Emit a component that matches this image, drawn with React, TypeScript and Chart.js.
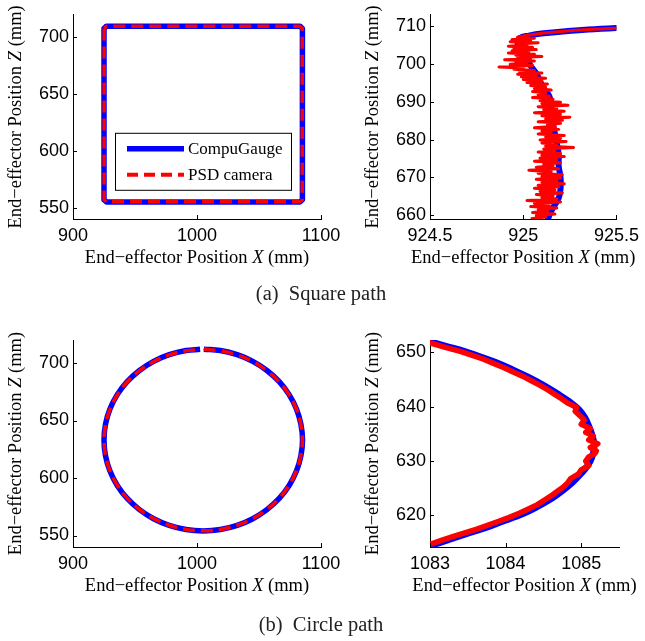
import React, { useEffect, useRef } from "react";
import { Chart, registerables } from "chart.js";

Chart.register(...registerables);

type Pt = [number, number];

const W = 645;
const H = 641;

// ---------- (a) Square path : full view ----------
const squareTicksX = [900, 1000, 1100];
const squareTicksY = [550, 600, 650, 700];
const squareBlue: Pt[] = [
  [925, 708], [925, 557], [927, 555], [1083, 555], [1085, 557],
  [1085, 708], [1083, 710], [927, 710], [925, 708],
];
const squareRed: Pt[] = [
  [925.1, 708], [925.1, 557], [927, 555.2], [1083, 555.2], [1084.9, 557],
  [1084.9, 708], [1083, 709.8], [927, 709.8], [925.1, 708],
];

// ---------- (a) Square path : zoom on left edge ----------
const edgeTicksX = [924.5, 925, 925.5];
const edgeTicksY = [660, 670, 680, 690, 700, 710];
const edgeBlue: Pt[] = [
  [925.6, 709.7], [925.5, 709.5], [925.35, 709.1], [925.24, 708.7], [925.11, 708.1],
  [925.03, 707.5], [924.98, 706.8], [924.97, 705.5], [924.99, 703.5], [925.02, 701.5],
  [925.04, 699.5], [925.07, 697.5], [925.09, 695.5], [925.11, 693.5], [925.14, 691.5],
  [925.15, 689.0], [925.15, 686.5], [925.16, 684.0], [925.17, 681.5], [925.18, 679.0],
  [925.19, 676.0], [925.19, 673.0], [925.2, 670.0], [925.2, 667.0], [925.19, 664.5],
  [925.16, 662.0], [925.14, 660.0], [925.13, 658.5],
];
const edgeRed: Pt[] = [
  [925.6, 709.6], [925.5, 709.45], [925.4, 709.25], [925.3, 709.0], [925.2, 708.6],
  [925.1, 708.1], [925.02, 707.6], [924.97, 707.1],
  [925.06, 706.8], [924.94, 706.5], [925.04, 706.2], [924.93, 705.9], [925.08, 705.6],
  [924.97, 705.3], [925.02, 705.0], [924.92, 704.7], [925.05, 704.4], [924.95, 704.1],
  [925.07, 703.8], [924.94, 703.5], [925.03, 703.2], [924.92, 702.9], [925.06, 702.6],
  [924.96, 702.3], [925.1, 702.0], [924.97, 701.7], [925.04, 701.4], [924.9, 701.1],
  [925.06, 700.8], [924.96, 700.5], [925.02, 700.2], [924.93, 699.9], [925.05, 699.6],
  [924.87, 699.2], [925.0, 698.9], [924.95, 698.6], [925.06, 698.3], [924.98, 698.0],
  [925.1, 697.6], [924.97, 697.3], [925.07, 697.0], [924.99, 696.6], [925.12, 696.2],
  [925.0, 695.9], [925.1, 695.5], [925.02, 695.1], [925.13, 694.7], [925.04, 694.3],
  [925.12, 693.9], [925.06, 693.5], [925.15, 693.1], [925.05, 692.7], [925.12, 692.3],
  [925.08, 691.9], [925.14, 691.5], [925.05, 691.1], [925.16, 690.7], [925.09, 690.3],
  [925.2, 689.9], [925.1, 689.5], [925.24, 689.1], [925.08, 688.7], [925.18, 688.3],
  [925.11, 687.9], [925.22, 687.5], [925.06, 687.1], [925.2, 686.7], [925.1, 686.3],
  [925.25, 685.9], [925.12, 685.5], [925.21, 685.1], [925.08, 684.7], [925.2, 684.3],
  [925.13, 683.9], [925.17, 683.5], [925.06, 683.1], [925.19, 682.7], [925.1, 682.3],
  [925.15, 681.9], [925.08, 681.5], [925.22, 681.1], [925.12, 680.7], [925.2, 680.3],
  [925.09, 679.9], [925.23, 679.5], [925.1, 679.1], [925.18, 678.7], [925.12, 678.3],
  [925.27, 677.9], [925.11, 677.5], [925.17, 677.1], [925.08, 676.7], [925.2, 676.3],
  [925.1, 675.9], [925.22, 675.5], [925.09, 675.1], [925.18, 674.7], [925.06, 674.3],
  [925.2, 673.9], [925.11, 673.5], [925.16, 673.1], [925.07, 672.7], [925.19, 672.3],
  [925.03, 671.9], [925.15, 671.5], [925.08, 671.1], [925.21, 670.7], [925.1, 670.3],
  [925.2, 669.9], [925.07, 669.5], [925.18, 669.1], [925.1, 668.7], [925.22, 668.3],
  [925.08, 667.9], [925.19, 667.5], [925.06, 667.1], [925.17, 666.7], [925.09, 666.3],
  [925.21, 665.9], [925.07, 665.5], [925.16, 665.1], [925.1, 664.7], [925.18, 664.3],
  [925.02, 663.9], [925.2, 663.5], [925.06, 663.1], [925.14, 662.7], [925.04, 662.3],
  [925.18, 661.9], [925.08, 661.5], [925.13, 661.1], [925.05, 660.7], [925.17, 660.3],
  [925.07, 659.9], [925.12, 659.5], [925.04, 659.1],
];

// ---------- (b) Circle path : full view ----------
const circleTicksX = [900, 1000, 1100];
const circleTicksY = [550, 600, 650, 700];
const circleBlue: Pt[] = [
  [1005.5, 712.0], [1018.9, 710.8], [1032.4, 707.2], [1045.0, 701.4], [1056.4, 693.5],
  [1066.3, 683.8], [1074.3, 672.5], [1080.2, 660.0], [1083.8, 646.7], [1085.1, 633.0],
  [1083.8, 619.3], [1080.2, 606.0], [1074.3, 593.5], [1066.3, 582.2], [1056.4, 572.5],
  [1045.0, 564.6], [1032.4, 558.8], [1018.9, 555.2], [1005.0, 554.0], [991.1, 555.2],
  [977.6, 558.8], [965.0, 564.6], [953.6, 572.5], [943.7, 582.2], [935.7, 593.5],
  [929.8, 606.0], [926.2, 619.3], [925.0, 633.0], [926.2, 646.7], [929.8, 660.0],
  [935.7, 672.5], [943.7, 683.8], [953.6, 693.5], [965.0, 701.4], [977.6, 707.2],
  [991.1, 710.8], [1002.5, 711.9],
];
const circleRed: Pt[] = [
  [1005.8, 713.0], [1007.0, 711.9], [1019.0, 710.6], [1032.3, 707.0], [1044.9, 701.3],
  [1056.3, 693.4], [1066.2, 683.7], [1074.2, 672.4], [1080.1, 660.0], [1083.7, 646.7],
  [1085.0, 633.0], [1083.7, 619.4], [1080.1, 606.1], [1074.2, 593.6], [1066.2, 582.3],
  [1056.3, 572.6], [1044.9, 564.7], [1032.3, 558.9], [1018.9, 555.3], [1005.0, 554.1],
  [991.1, 555.3], [977.7, 558.9], [965.1, 564.7], [953.7, 572.6], [943.8, 582.3],
  [935.8, 593.6], [929.9, 606.0], [926.3, 619.3], [925.1, 633.0], [926.3, 646.6],
  [929.9, 659.9], [935.8, 672.4], [943.8, 683.7], [953.7, 693.4], [965.1, 701.3],
  [977.7, 707.0], [991.2, 710.6], [1002.2, 711.7],
];

// ---------- (b) Circle path : zoom on right side ----------
const arcTicksX = [1083, 1084, 1085];
const arcTicksY = [620, 630, 640, 650];
const arcBlue: Pt[] = [
  [1082.6, 653.2], [1083.0, 652.0], [1083.2, 651.2], [1083.44, 650.3], [1083.65, 649.3],
  [1083.87, 648.2], [1084.1, 646.8], [1084.31, 645.4], [1084.51, 643.9], [1084.7, 642.3],
  [1084.84, 641.0], [1084.97, 639.5], [1085.05, 638.0], [1085.1, 636.5], [1085.14, 635.0],
  [1085.17, 633.4], [1085.17, 632.5], [1085.16, 631.5], [1085.12, 630.0], [1085.05, 628.5],
  [1084.95, 627.0], [1084.88, 626.0], [1084.75, 624.5], [1084.62, 623.2], [1084.47, 622.0],
  [1084.31, 620.8], [1084.14, 619.8], [1083.96, 618.9], [1083.75, 617.8], [1083.52, 616.8],
  [1083.28, 615.7], [1083.04, 614.6], [1082.6, 613.2],
];
const arcRed: Pt[] = [
  [1082.82, 652.5], [1083.02, 651.7], [1083.19, 651.0], [1083.4, 650.2], [1083.55, 649.5],
  [1083.7, 648.8], [1083.84, 648.0], [1083.98, 647.2], [1084.1, 646.4], [1084.23, 645.6],
  [1084.34, 644.8], [1084.45, 644.0], [1084.56, 643.1], [1084.65, 642.3], [1084.74, 641.5],
  [1084.82, 640.7], [1084.94, 639.9], [1084.92, 639.2], [1084.98, 638.4], [1085.04, 637.6],
  [1085.0, 636.8], [1085.12, 636.0], [1085.06, 635.3], [1085.16, 634.6], [1085.1, 633.9],
  [1085.22, 633.2], [1085.12, 632.5], [1085.2, 631.9], [1085.18, 631.4], [1085.1, 630.8],
  [1085.06, 630.0], [1085.1, 629.2], [1085.0, 628.4], [1084.96, 627.6], [1084.86, 626.8],
  [1084.82, 626.0], [1084.76, 625.2], [1084.68, 624.4], [1084.6, 623.6], [1084.52, 622.9],
  [1084.42, 622.0], [1084.3, 621.2], [1084.18, 620.4], [1084.04, 619.6], [1083.9, 618.9],
  [1083.76, 618.2], [1083.62, 617.5], [1083.46, 616.8], [1083.3, 616.1], [1083.15, 615.4],
  [1083.0, 614.7], [1082.85, 614.0],
];

const legendLabels = ["CompuGauge", "PSD camera"];
const xTitle = ["End\u2212effector Position ", "X", " (mm)"];
const yTitle = ["End\u2212effector Position ", "Z", " (mm)"];

const BLUE = "#0000ff";
const RED = "#ff0000";
const TICK_FONT = '"Liberation Sans", Arial, sans-serif';
const SERIF = '"Liberation Serif", "Times New Roman", serif';

type Rect = { left: number; top: number; right: number; bottom: number };
type DS = { pts: Pt[]; color: string; width: number; dash?: number[]; tension?: number };
type PanelCfg = {
  rect: Rect;
  xMin: number; xMax: number; yMin: number; yMax: number;
  xTicks: number[]; yTicks: number[];
  series: DS[];
  legend?: boolean;
};

const YW = 60;
const XH = 60;

function drawMixed(ctx: CanvasRenderingContext2D, parts: string[], cx: number, cy: number, size: number) {
  const fonts = [`${size}px ${SERIF}`, `italic ${size}px ${SERIF}`, `${size}px ${SERIF}`];
  let total = 0;
  const widths = parts.map((p, i) => {
    ctx.font = fonts[i];
    const w = ctx.measureText(p).width;
    total += w;
    return w;
  });
  let x = cx - total / 2;
  ctx.textBaseline = "middle";
  ctx.textAlign = "left";
  parts.forEach((p, i) => {
    ctx.font = fonts[i];
    ctx.fillText(p, x, cy);
    x += widths[i];
  });
}

const decorPlugin = {
  id: "decor",
  afterDraw(chart: any) {
    const { ctx, chartArea: a, scales } = chart;
    const cfg: PanelCfg = chart.options.plugins.decor.cfg;
    ctx.save();
    ctx.strokeStyle = "#000";
    ctx.fillStyle = "#000";
    ctx.lineWidth = 1;
    ctx.setLineDash([]);
    // inward tick marks
    ctx.beginPath();
    cfg.xTicks.forEach((v) => {
      const px = Math.round(scales.x.getPixelForValue(v)) + 0.5;
      ctx.moveTo(px, a.bottom);
      ctx.lineTo(px, a.bottom - 4);
    });
    cfg.yTicks.forEach((v) => {
      const py = Math.round(scales.y.getPixelForValue(v)) + 0.5;
      ctx.moveTo(a.left, py);
      ctx.lineTo(a.left + 4, py);
    });
    ctx.stroke();
    // axis titles
    drawMixed(ctx, xTitle, (a.left + a.right) / 2, a.bottom + 39, 18.5);
    ctx.save();
    ctx.translate(a.left - 57, (a.top + a.bottom) / 2);
    ctx.rotate(-Math.PI / 2);
    drawMixed(ctx, yTitle, 0, 0, 18.5);
    ctx.restore();
    // legend
    if (cfg.legend) {
      const lx = a.left + 42;
      const ly = a.top + 118;
      const lw = 176;
      const lh = 57;
      ctx.fillStyle = "#fff";
      ctx.fillRect(lx, ly, lw, lh);
      ctx.strokeStyle = "#000";
      ctx.lineWidth = 1;
      ctx.strokeRect(lx + 0.5, ly + 0.5, lw, lh);
      const rows = [
        { c: BLUE, w: 5.5, d: [] as number[] },
        { c: RED, w: 4, d: [11, 6] },
      ];
      rows.forEach((r, i) => {
        const yy = ly + 16 + i * 26;
        ctx.beginPath();
        ctx.strokeStyle = r.c;
        ctx.lineWidth = r.w;
        ctx.lineCap = "butt";
        ctx.setLineDash(r.d);
        ctx.moveTo(lx + 12, yy);
        ctx.lineTo(lx + 69, yy);
        ctx.stroke();
        ctx.setLineDash([]);
        ctx.fillStyle = "#000";
        ctx.font = `17px ${SERIF}`;
        ctx.textAlign = "left";
        ctx.textBaseline = "middle";
        ctx.fillText(legendLabels[i], lx + 73, yy + 1);
      });
    }
    ctx.restore();
  },
};

function axis(min: number, max: number, ticks: number[], horizontal: boolean) {
  return {
    type: "linear",
    min,
    max,
    grid: { display: false, drawTicks: false },
    border: { display: true, color: "#000", width: 1 },
    ticks: {
      color: "#000",
      font: { family: TICK_FONT, size: 18 },
      padding: horizontal ? 6 : 4,
      maxRotation: 0,
      autoSkip: false,
      callback: (v: number) => String(v),
    },
    afterBuildTicks: (s: any) => {
      s.ticks = ticks.map((v) => ({ value: v }));
    },
    afterFit: (s: any) => {
      if (horizontal) s.height = XH;
      else s.width = YW;
    },
  };
}

function Panel({ cfg }: { cfg: PanelCfg }) {
  const ref = useRef<HTMLCanvasElement>(null);
  useEffect(() => {
    const r = cfg.rect;
    const chart = new Chart(ref.current as HTMLCanvasElement, {
      type: "scatter",
      data: {
        datasets: cfg.series.map((s) => ({
          data: s.pts.map(([x, y]) => ({ x, y })),
          borderColor: s.color,
          backgroundColor: s.color,
          borderWidth: s.width,
          borderDash: s.dash || [],
          borderJoinStyle: "round",
          borderCapStyle: "butt",
          pointRadius: 0,
          pointHoverRadius: 0,
          showLine: true,
          tension: s.tension || 0,
          clip: 0,
          fill: false,
        })),
      },
      options: {
        responsive: false,
        animation: false,
        devicePixelRatio: 1,
        events: [],
        layout: {
          padding: {
            left: r.left - YW,
            top: r.top,
            right: W - r.right,
            bottom: H - r.bottom - XH,
          },
        },
        plugins: {
          legend: { display: false },
          tooltip: { enabled: false },
          decor: { cfg },
        },
        scales: {
          x: axis(cfg.xMin, cfg.xMax, cfg.xTicks, true),
          y: axis(cfg.yMin, cfg.yMax, cfg.yTicks, false),
        },
      } as any,
      plugins: [decorPlugin],
    } as any);
    return () => chart.destroy();
  }, []);
  return (
    <canvas
      ref={ref}
      width={W}
      height={H}
      style={{ position: "absolute", left: 0, top: 0, width: W, height: H }}
    />
  );
}

const panels: PanelCfg[] = [
  {
    rect: { left: 73, top: 12, right: 321, bottom: 219 },
    xMin: 900, xMax: 1100, yMin: 540, yMax: 720,
    xTicks: squareTicksX, yTicks: squareTicksY,
    series: [
      { pts: squareRed, color: RED, width: 3.5, dash: [12, 6] },
      { pts: squareBlue, color: BLUE, width: 5.5 },
    ],
    legend: true,
  },
  {
    rect: { left: 430, top: 12, right: 620, bottom: 219 },
    xMin: 924.5, xMax: 925.5, yMin: 659, yMax: 713,
    xTicks: edgeTicksX, yTicks: edgeTicksY,
    series: [
      { pts: edgeRed, color: RED, width: 3 },
      { pts: edgeBlue, color: BLUE, width: 6, tension: 0.4 },
    ],
  },
  {
    rect: { left: 73, top: 340, right: 321, bottom: 547 },
    xMin: 900, xMax: 1100, yMin: 540, yMax: 720,
    xTicks: circleTicksX, yTicks: circleTicksY,
    series: [
      { pts: circleRed, color: RED, width: 3.5, dash: [12, 6], tension: 0.4 },
      { pts: circleBlue, color: BLUE, width: 5.5, tension: 0.4 },
    ],
  },
  {
    rect: { left: 430, top: 340, right: 619, bottom: 547 },
    xMin: 1083, xMax: 1085.5, yMin: 614.2, yMax: 652.3,
    xTicks: arcTicksX, yTicks: arcTicksY,
    series: [
      { pts: arcRed, color: RED, width: 5.5 },
      { pts: arcBlue, color: BLUE, width: 6.5, tension: 0.4 },
    ],
  },
];

const captionStyle: React.CSSProperties = {
  position: "absolute",
  left: 0,
  width: 642,
  textAlign: "center",
  font: `20.5px ${SERIF}`,
  lineHeight: "20px",
  whiteSpace: "pre",
  color: "#222",
};

export default function App() {
  return (
    <div style={{ position: "absolute", left: 0, top: 0, width: W, height: H, background: "#fff", overflow: "hidden" }}>
      {panels.map((p, i) => (
        <Panel key={i} cfg={p} />
      ))}
      <div style={{ ...captionStyle, top: 283 }}>(a)  Square path</div>
      <div style={{ ...captionStyle, top: 614 }}>(b)  Circle path</div>
    </div>
  );
}
